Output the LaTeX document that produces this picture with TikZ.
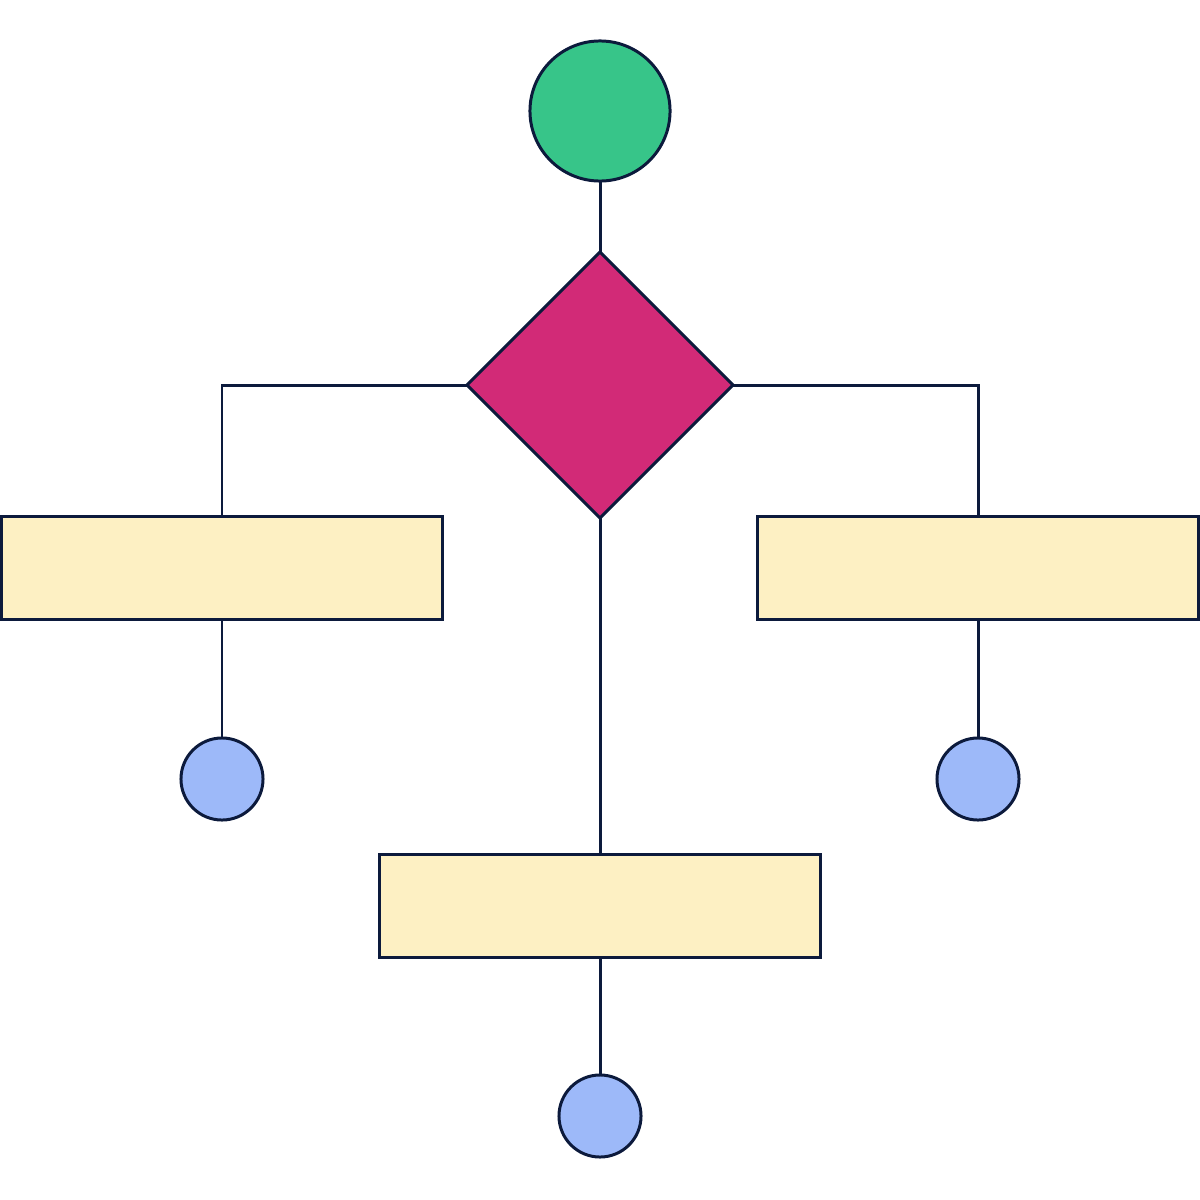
\documentclass[tikz,border=0pt]{standalone}
\usetikzlibrary{shapes.geometric}

\definecolor{inkblue}{HTML}{0C1A3C}
\definecolor{startgreen}{HTML}{37C589}
\definecolor{choicepink}{HTML}{D22A77}
\definecolor{stepyellow}{HTML}{FDF0C3}
\definecolor{endblue}{HTML}{9DB9F9}

\begin{document}
\begin{tikzpicture}[x=0.01cm, y=-0.01cm]
\tikzstyle{decision} = [diamond, draw=inkblue, line width=0.85pt, fill=choicepink,
minimum width=2.66cm, minimum height=2.66cm, inner sep=0pt, outer sep=0pt]
\tikzstyle{block} = [rectangle, draw=inkblue, line width=0.85pt, fill=stepyellow,
minimum width=4.4cm, minimum height=1.02cm, inner sep=0pt, outer sep=0pt]
\tikzstyle{begin} = [circle, draw=inkblue, line width=0.85pt, fill=startgreen,
minimum size=1.4cm, inner sep=0pt, outer sep=0pt]
\tikzstyle{finish} = [circle, draw=inkblue, line width=0.85pt, fill=endblue,
minimum size=0.82cm, inner sep=0pt, outer sep=0pt]
\tikzstyle{line} = [draw=inkblue, line width=0.85pt];

\useasboundingbox (0,0) rectangle (1200,1200);

% top
\node [begin] (start) at (600,111) {};
\node [decision] (choice) at (600,385) {};
% the three branches
\node [block] (leftop) at (222,568) {};
\node [block] (rightop) at (978,568) {};
\node [block] (midop) at (600,906) {};
% ends
\node [finish] (leftend) at (222,779) {};
\node [finish] (rightend) at (978,779) {};
\node [finish] (midend) at (600,1116) {};

\tikzstyle{every path}=[line]
\path (start) -- (choice);
\path (choice.west) -| (leftop.north);
\path (choice.east) -| (rightop.north);
\path (choice.south) -- (midop.north);
\path (leftop) -- (leftend);
\path (rightop) -- (rightend);
\path (midop) -- (midend);

\end{tikzpicture}
\end{document}
